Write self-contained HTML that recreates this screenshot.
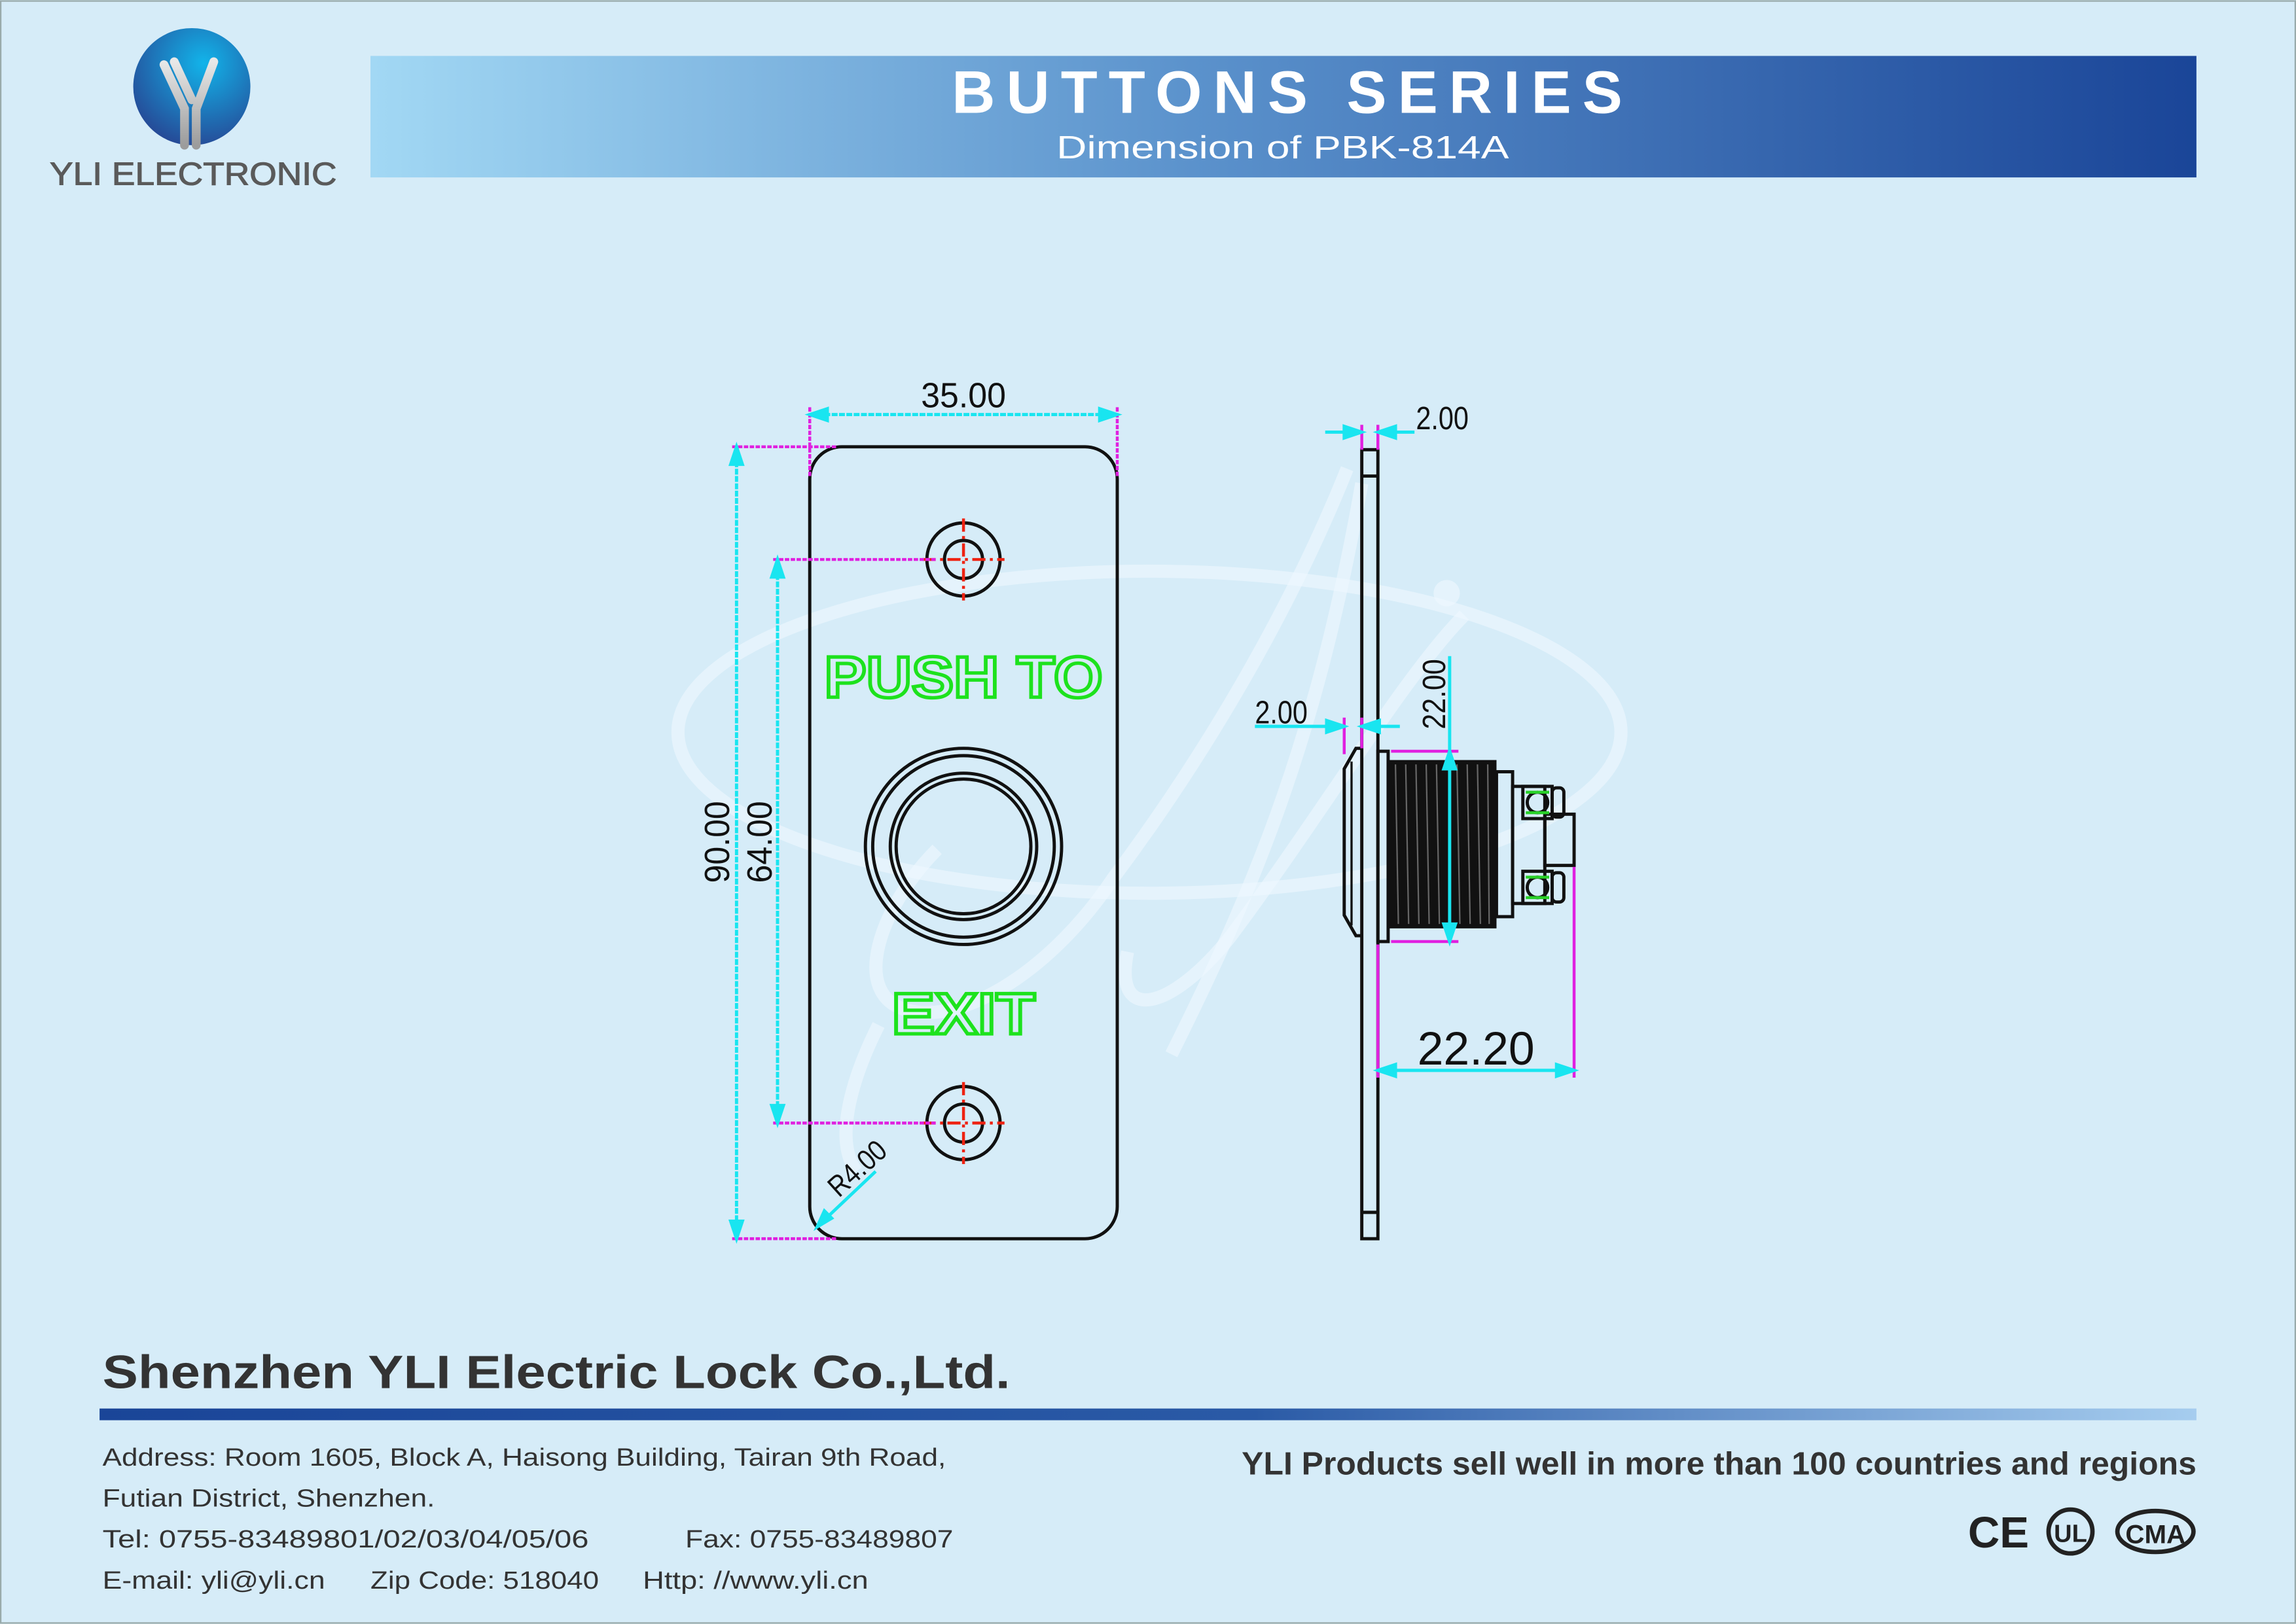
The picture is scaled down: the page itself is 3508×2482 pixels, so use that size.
<!DOCTYPE html>
<html><head><meta charset="utf-8"><style>
html,body{margin:0;padding:0;background:#d6ecf8;}
svg{display:block;}
</style></head><body>
<svg width="3508" height="2482" viewBox="0 0 1568 1109" xmlns="http://www.w3.org/2000/svg" font-family="Liberation Sans, sans-serif">
<defs>
<linearGradient id="hdr" x1="0" x2="1" y1="0" y2="0"><stop offset="0" stop-color="#a2d8f4"/><stop offset="0.45" stop-color="#5b92cc"/><stop offset="1" stop-color="#1a4598"/></linearGradient>
<linearGradient id="bar" x1="0" x2="1" y1="0" y2="0"><stop offset="0" stop-color="#1a4598"/><stop offset="0.55" stop-color="#2a5aa6"/><stop offset="1" stop-color="#a6cdef"/></linearGradient>
<radialGradient id="lg" cx="0.6" cy="0.3" r="0.8"><stop offset="0" stop-color="#12b4ea"/><stop offset="1" stop-color="#283f8e"/></radialGradient>
<linearGradient id="yg" x1="0" x2="0" y1="0" y2="1"><stop offset="0" stop-color="#e8e8e8"/><stop offset="1" stop-color="#9c9c9c"/></linearGradient>
</defs>
<rect width="1568" height="1109" fill="#d6ecf8"/>
<rect x="0.5" y="0.5" width="1567" height="1108" fill="none" stroke="#9aa" stroke-width="1"/>
<!-- logo -->
<ellipse cx="131" cy="59" rx="40" ry="40" fill="url(#lg)"/>
<path d="M112 44 L126 74 L126 99 M119 42 L131 68 M146 42 L134 74 L134 99" fill="none" stroke="url(#yg)" stroke-width="6" stroke-linecap="round"/>
<text x="132" y="126" font-size="22" fill="#5a5a5a" stroke="#5a5a5a" stroke-width="0.5" text-anchor="middle" textLength="196" lengthAdjust="spacingAndGlyphs">YLI ELECTRONIC</text>
<!-- header -->
<rect x="253" y="38" width="1247" height="83" fill="url(#hdr)"/>
<text x="879" y="77" font-size="41" font-weight="bold" fill="#fff" text-anchor="middle" textLength="458" lengthAdjust="spacing">BUTTONS SERIES</text>
<text x="876" y="108" font-size="22" fill="#fff" text-anchor="middle" textLength="309" lengthAdjust="spacingAndGlyphs">Dimension of  PBK-814A</text>
<!-- watermark -->
<g fill="none" stroke="#eef8ff" stroke-opacity="0.6" stroke-width="9">
<ellipse cx="785" cy="500" rx="322" ry="110"/>
<path d="M920 320 C880 420 820 520 760 600 C720 660 660 700 620 690 C580 680 600 620 640 580"/>
<path d="M930 330 C900 500 860 600 800 720"/>
<path d="M1000 420 C960 460 900 560 840 640 C800 690 760 700 770 650"/>
<path d="M600 700 C580 740 570 780 585 800"/>
</g>
<circle cx="988" cy="405" r="9" fill="#eef8ff" fill-opacity="0.6"/>
<!-- front plate -->
<g fill="none" stroke="#111" stroke-width="2.2">
<rect x="553" y="305" width="210" height="541" rx="22"/>
<circle cx="658" cy="382" r="25"/><circle cx="658" cy="382" r="13"/>
<circle cx="658" cy="767" r="25"/><circle cx="658" cy="767" r="13"/>
<circle cx="658" cy="578" r="67"/><circle cx="658" cy="578" r="62"/><circle cx="658" cy="578" r="50"/><circle cx="658" cy="578" r="46"/>
</g>
<g stroke="#e21" stroke-width="2" stroke-dasharray="9 3 2 3">
<line x1="658" y1="354" x2="658" y2="410"/><line x1="630" y1="382" x2="686" y2="382"/>
<line x1="658" y1="739" x2="658" y2="795"/><line x1="630" y1="767" x2="686" y2="767"/>
</g>
<g font-size="40" font-weight="bold" fill="none" stroke="#1de21d" stroke-width="2.4" text-anchor="middle">
<text x="658" y="476" textLength="190" lengthAdjust="spacingAndGlyphs">PUSH TO</text>
<text x="658" y="706" textLength="98" lengthAdjust="spacingAndGlyphs">EXIT</text>
</g>
<!-- dims front -->
<g stroke="#e020e0" stroke-width="2" stroke-dasharray="3 1">
<line x1="553" y1="278" x2="553" y2="325"/><line x1="763" y1="278" x2="763" y2="325"/>
<line x1="500" y1="305" x2="572" y2="305"/><line x1="500" y1="846" x2="572" y2="846"/>
<line x1="528" y1="382" x2="640" y2="382"/><line x1="528" y1="767" x2="640" y2="767"/>
</g>
<g stroke="#19e5f0" stroke-width="2.2" fill="#19e5f0">
<line x1="553" y1="283" x2="763" y2="283" stroke-dasharray="4 1"/>
<path d="M553 283 l12 -4 v8z M763 283 l-12 -4 v8z"/>
<line x1="503" y1="305" x2="503" y2="846" stroke-dasharray="4 1"/>
<path d="M503 305 l-4 12 h8z M503 846 l-4 -12 h8z"/>
<line x1="531" y1="382" x2="531" y2="767" stroke-dasharray="4 1"/>
<path d="M531 382 l-4 12 h8z M531 767 l-4 -12 h8z"/>
<line x1="560" y1="836" x2="598" y2="800"/>
<path d="M558 838 l5 -11 l5 5z"/>
</g>
<g font-size="24" fill="#111" text-anchor="middle">
<text x="658" y="278" textLength="58" lengthAdjust="spacingAndGlyphs">35.00</text>
<text transform="translate(498 575) rotate(-90)" textLength="56" lengthAdjust="spacingAndGlyphs">90.00</text>
<text transform="translate(527 575) rotate(-90)" textLength="56" lengthAdjust="spacingAndGlyphs">64.00</text>
<text font-size="20" transform="translate(590 803) rotate(-42)" textLength="46" lengthAdjust="spacingAndGlyphs">R4.00</text>
</g>
<!-- side view -->
<g fill="none" stroke="#111" stroke-width="2.2">
<rect x="930" y="307" width="11" height="539"/>
<line x1="930" y1="325" x2="941" y2="325"/><line x1="930" y1="828" x2="941" y2="828"/>
<path d="M930 511 L926 511 L918 525 L918 625 L926 639 L930 639"/>
<line x1="923" y1="520" x2="923" y2="632" stroke-width="1.5"/>
<rect x="941" y="513" width="7" height="130"/>
<rect x="1022" y="527" width="11" height="99"/>
<rect x="1033" y="537" width="22" height="80"/>
<rect x="1055" y="556" width="20" height="35"/>
<rect x="1040" y="537" width="20" height="22"/><rect x="1060" y="538" width="8" height="20" rx="3"/>
<rect x="1040" y="595" width="20" height="22"/><rect x="1060" y="596" width="8" height="20" rx="3"/>
<circle cx="1050" cy="548" r="7"/><circle cx="1050" cy="606" r="7"/>
</g>
<g stroke="#28d028" stroke-width="2"><line x1="1042" y1="541" x2="1058" y2="541"/><line x1="1042" y1="555" x2="1058" y2="555"/><line x1="1042" y1="599" x2="1058" y2="599"/><line x1="1042" y1="613" x2="1058" y2="613"/></g>
<rect x="948" y="519" width="74" height="115" fill="#111"/>
<g stroke="#666" stroke-width="1">
<line x1="953" y1="522" x2="955" y2="631"/><line x1="960" y1="522" x2="962" y2="631"/><line x1="967" y1="522" x2="969" y2="631"/><line x1="974" y1="522" x2="976" y2="631"/><line x1="981" y1="522" x2="983" y2="631"/><line x1="995" y1="522" x2="997" y2="631"/><line x1="1002" y1="522" x2="1004" y2="631"/><line x1="1009" y1="522" x2="1011" y2="631"/><line x1="1016" y1="522" x2="1017" y2="631"/>
</g>
<g stroke="#e020e0" stroke-width="2">
<line x1="930" y1="290" x2="930" y2="307"/><line x1="941" y1="290" x2="941" y2="307"/>
<line x1="918" y1="490" x2="918" y2="515"/><line x1="930" y1="490" x2="930" y2="511"/>
<line x1="950" y1="513" x2="996" y2="513"/><line x1="950" y1="643" x2="996" y2="643"/>
<line x1="941" y1="645" x2="941" y2="736"/><line x1="1075" y1="592" x2="1075" y2="736"/>
</g>
<g stroke="#19e5f0" stroke-width="2.2" fill="#19e5f0">
<line x1="905" y1="295" x2="930" y2="295"/><path d="M930 295 l-12 -4 v8z"/>
<line x1="941" y1="295" x2="966" y2="295"/><path d="M941 295 l12 -4 v8z"/>
<line x1="857" y1="496" x2="918" y2="496"/><path d="M918 496 l-12 -4 v8z"/>
<line x1="930" y1="496" x2="956" y2="496"/><path d="M930 496 l12 -4 v8z"/>
<line x1="990" y1="448" x2="990" y2="643"/><path d="M990 513 l-4 12 h8z M990 643 l-4 -12 h8z"/>
<line x1="941" y1="731" x2="1075" y2="731"/><path d="M941 731 l12 -4 v8z M1075 731 l-12 -4 v8z"/>
</g>
<g font-size="22" fill="#111" text-anchor="middle">
<text x="985" y="293" textLength="36" lengthAdjust="spacingAndGlyphs">2.00</text>
<text x="875" y="494" textLength="36" lengthAdjust="spacingAndGlyphs">2.00</text>
<text transform="translate(987 474) rotate(-90)" textLength="48" lengthAdjust="spacingAndGlyphs">22.00</text>
<text x="1008" y="727" font-size="32" textLength="80" lengthAdjust="spacingAndGlyphs">22.20</text>
</g>
<!-- footer -->
<text x="70" y="948" font-size="32" font-weight="bold" fill="#333" textLength="620" lengthAdjust="spacingAndGlyphs">Shenzhen YLI Electric Lock Co.,Ltd.</text>
<rect x="68" y="962" width="1432" height="8" fill="url(#bar)"/>
<g font-size="17" fill="#333">
<text x="70" y="1001" textLength="576" lengthAdjust="spacingAndGlyphs">Address: Room 1605, Block A, Haisong Building, Tairan 9th Road,</text>
<text x="70" y="1029" textLength="227" lengthAdjust="spacingAndGlyphs">Futian District, Shenzhen.</text>
<text x="70" y="1057" textLength="332" lengthAdjust="spacingAndGlyphs">Tel: 0755-83489801/02/03/04/05/06</text>
<text x="468" y="1057" textLength="183" lengthAdjust="spacingAndGlyphs">Fax: 0755-83489807</text>
<text x="70" y="1085" textLength="152" lengthAdjust="spacingAndGlyphs">E-mail: yli@yli.cn</text>
<text x="253" y="1085" textLength="156" lengthAdjust="spacingAndGlyphs">Zip Code: 518040</text>
<text x="439" y="1085" textLength="154" lengthAdjust="spacingAndGlyphs">Http: //www.yli.cn</text>
</g>
<text x="1500" y="1007" font-size="22" font-weight="bold" fill="#333" text-anchor="end" textLength="652" lengthAdjust="spacingAndGlyphs">YLI Products sell well in more than 100 countries and regions</text>
<text x="1344" y="1057" font-size="30" font-weight="bold" fill="#222">CE</text>
<circle cx="1414" cy="1046" r="15" fill="none" stroke="#222" stroke-width="3"/>
<text x="1414" y="1053" font-size="17" font-weight="bold" fill="#222" text-anchor="middle">UL</text>
<ellipse cx="1472" cy="1046" rx="26" ry="14" fill="none" stroke="#222" stroke-width="3"/>
<text x="1472" y="1054" font-size="18" font-weight="bold" fill="#222" text-anchor="middle">CMA</text>
</svg>
</body></html>
